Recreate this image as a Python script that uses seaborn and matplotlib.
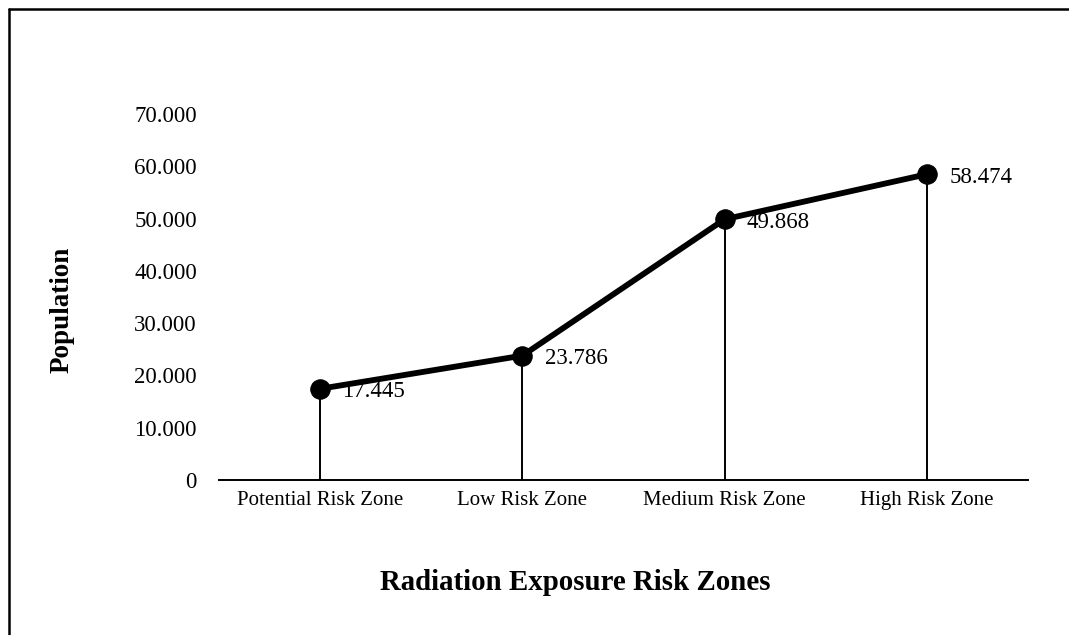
import matplotlib
matplotlib.use("Agg")
import matplotlib.pyplot as plt
from matplotlib.lines import Line2D
import seaborn as sns
import pandas as pd

# Population by radiation exposure risk zone
zones = ["Potential Risk Zone", "Low Risk Zone", "Medium Risk Zone", "High Risk Zone"]
population = [17.445, 23.786, 49.868, 58.474]
y_ticks = [0, 10, 20, 30, 40, 50, 60, 70]
y_tick_labels = ["0", "10.000", "20.000", "30.000", "40.000", "50.000", "60.000", "70.000"]

sns.set_theme(style="white")
plt.rcParams["font.family"] = ["Liberation Serif", "DejaVu Serif"]
plt.rcParams["text.color"] = "black"
plt.rcParams["xtick.color"] = "black"
plt.rcParams["ytick.color"] = "black"

df = pd.DataFrame({"zone": zones, "pop": population, "pos": range(len(zones))})

fig = plt.figure(figsize=(10.69, 6.35), dpi=100)
ax = fig.add_axes([219 / 1069, 1 - 480 / 635, (1028 - 219) / 1069, (480 - 114) / 635])

# drop lines from each point to the baseline
ax.vlines(df["pos"], 0, df["pop"], color="black", linewidth=1.4, zorder=1)

sns.lineplot(data=df, x="pos", y="pop", ax=ax, color="black", linewidth=4.2,
             marker="o", markersize=14, markeredgecolor="black", zorder=3)

for x, v in zip(df["pos"], df["pop"]):
    ax.annotate(f"{v:.3f}", (x, v), xytext=(16, -2), textcoords="offset points",
                ha="left", va="center", fontsize=16.5, color="black")

ax.set_xlim(-0.5, len(zones) - 0.5)
ax.set_ylim(0, 70)
ax.set_xticks(range(len(zones)))
ax.set_xticklabels(zones, fontsize=15, color="black")
ax.set_yticks(y_ticks)
ax.set_yticklabels(y_tick_labels, fontsize=16.5, color="black")
ax.tick_params(axis="y", length=0, pad=16)
ax.tick_params(axis="x", length=0, pad=8)
ax.set_xlabel("")
ax.set_ylabel("")

for side in ["left", "right", "top"]:
    ax.spines[side].set_visible(False)
ax.spines["bottom"].set_color("black")
ax.spines["bottom"].set_linewidth(1.4)

fig.text(575 / 1069, 1 - 583 / 635, "Radiation Exposure Risk Zones", ha="center", va="center",
         fontsize=20.8, fontweight="bold", color="black")
fig.text(62 / 1069, 1 - 310 / 635, "Population", ha="center", va="center", rotation=90,
         fontsize=19.5, fontweight="bold", color="black")

# outer frame
fig.add_artist(Line2D([8.5 / 1069, 8.5 / 1069], [0, 1 - 8.5 / 635], transform=fig.transFigure,
                      color="black", linewidth=1.8))
fig.add_artist(Line2D([8.5 / 1069, 1], [1 - 8.5 / 635, 1 - 8.5 / 635], transform=fig.transFigure,
                      color="black", linewidth=1.8))

fig.savefig("out.png", dpi=100)
